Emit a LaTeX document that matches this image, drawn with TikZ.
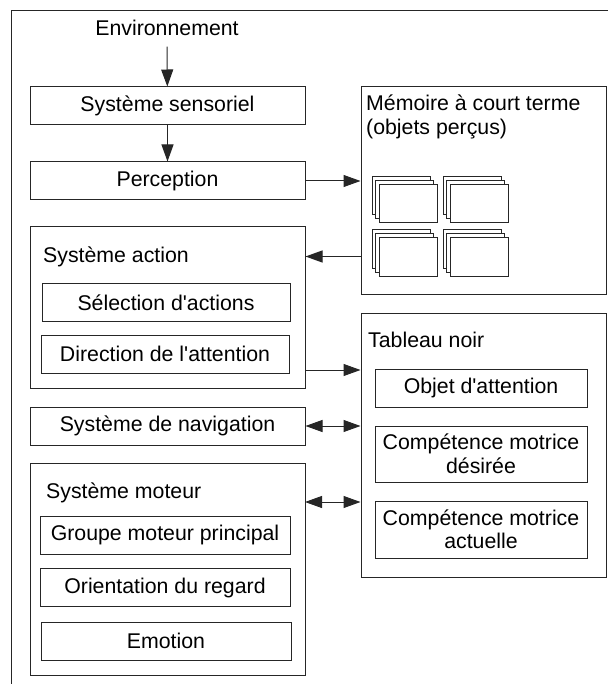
\documentclass[tikz,border=0pt]{standalone}
\usepackage{fontspec}
\setmainfont{Liberation Sans}
\usetikzlibrary{arrows.meta}
\tikzset{
  ln/.style={line width=1pt,draw=black!85},
  box/.style={ln,minimum width=275pt,minimum height=38pt,inner sep=0pt,align=center},
  sub/.style={box,minimum width=248pt},
  lbl/.style={anchor=base west,inner sep=0pt},
  arr/.style={ln,-{Triangle[length=17pt,width=12pt]}},
  darr/.style={ln,{Triangle[length=17pt,width=12pt]}-{Triangle[length=17pt,width=12pt]}},
}
\begin{document}
\begin{tikzpicture}[x=1pt,y=-1pt,font=\fontsize{21.3}{23.5}\selectfont]
  \useasboundingbox (0,0) rectangle (608,684);
  \draw[ln] (608,11) -- (11,11) -- (11,684);
  % left column
  \node[anchor=base] (env) at (167,36) {Environnement};
  \node[box] (sens) at (167.5,106) {Système sensoriel};
  \node[box] (perc) at (167.5,181) {Perception};
  \node[box,minimum height=161pt] (action) at (167.5,307.5) {};
  \node[lbl] (actlbl) at (43,262) {Système action};
  \node[sub] (sel) at (166,302.5) {Sélection d\textquotesingle actions};
  \node[sub] (dir) at (165,354) {Direction de l\textquotesingle attention};
  \node[box] (nav) at (167.5,426) {Système de navigation};
  \node[box,minimum height=212pt] (moteur) at (167.5,569) {};
  \node[lbl] (motlbl) at (46,498) {Système moteur};
  \node[sub,minimum width=250pt] (grp) at (165,535) {Groupe moteur principal};
  \node[sub,minimum width=250pt] (ori) at (165,587.5) {Orientation du regard};
  \node[sub,minimum width=250pt] (emo) at (166,641) {Emotion};
  % right column
  \node[box,minimum width=245pt,minimum height=207pt] (mem) at (483.5,190.5) {};
  \node[anchor=north west,align=left,inner sep=0pt] (memlbl) at (366,95) {Mémoire à court terme\\(objets perçus)};
  \foreach \sx/\sy in {372/177,443/177,372/230,443/230}
    \foreach \d in {0,3.5,7}
      \filldraw[ln,fill=white] (\sx+\d,{\sy+\d*8/7}) rectangle ++(58,38);
  \node[box,minimum width=245pt,minimum height=264pt] (tab) at (483.5,445) {};
  \node[lbl] (tablbl) at (368,347) {Tableau noir};
  \node[sub,minimum width=212pt] (obj) at (481,388) {Objet d\textquotesingle attention};
  \node[sub,minimum width=212pt,minimum height=56pt] (des) at (481,454) {Compétence motrice\\désirée};
  \node[sub,minimum width=212pt,minimum height=57pt] (cur) at (481,529.5) {Compétence motrice\\actuelle};
  % connectors
  \coordinate (m2a) at (361,256.5);
  \coordinate (a2t) at (305,370);
  \coordinate (m2t) at (305,502);
  \draw[arr] ([yshift=-7pt]env.south) -- (sens);
  \draw[arr] (sens) -- (perc);
  \draw[arr] (perc) -- (perc -| mem.west);
  \draw[arr] (m2a) -- (m2a -| action.east);
  \draw[arr] (a2t) -- (a2t -| tab.west);
  \draw[darr] (nav) -- (nav -| tab.west);
  \draw[darr] (m2t) -- (m2t -| tab.west);
\end{tikzpicture}
\end{document}
